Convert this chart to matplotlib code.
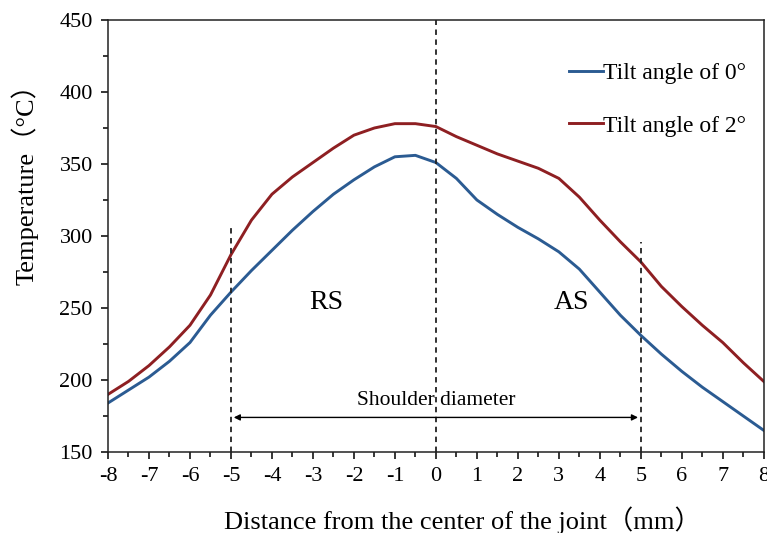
import matplotlib
matplotlib.use("Agg")
import matplotlib.pyplot as plt
from matplotlib.ticker import MultipleLocator

# distance from joint centre (mm) and temperature readings (°C)
distance = [-8, -7.5, -7, -6.5, -6, -5.5, -5, -4.5, -4, -3.5, -3, -2.5, -2, -1.5, -1, -0.5,
            0, 0.5, 1, 1.5, 2, 2.5, 3, 3.5, 4, 4.5, 5, 5.5, 6, 6.5, 7, 7.5, 8]
temp_tilt0 = [184, 193, 202, 213, 226, 245, 261, 276, 290, 304, 317, 329, 339, 348, 355, 356,
              351, 340, 325, 315, 306, 298, 289, 277, 261, 245, 231, 218, 206, 195, 185, 175, 165]
temp_tilt2 = [190, 199, 210, 223, 238, 259, 287, 311, 329, 341, 351, 361, 370, 375, 378, 378,
              376, 369, 363, 357, 352, 347, 340, 327, 311, 296, 282, 265, 251, 238, 226, 212, 199]
series_labels = ["Tilt angle of 0°", "Tilt angle of 2°"]

serif = ["Liberation Serif", "Noto Sans CJK SC"]
plt.rcParams["font.family"] = serif
plt.rcParams["axes.unicode_minus"] = False

fig = plt.figure(figsize=(7.67, 5.33), dpi=100)
ax = fig.add_axes([0.1408, 0.152, 0.855, 0.8105])

ax.plot(distance, temp_tilt0, color="#2b5b92", linewidth=2.1, label=series_labels[0])
ax.plot(distance, temp_tilt2, color="#8e1f22", linewidth=2.1, label=series_labels[1])

# reference lines: joint centre and shoulder edges
ax.axvline(0, color="#222222", linestyle="--", linewidth=1.3, dashes=(3, 2.5))
ax.plot([-5, -5], [150, 308], color="#222222", linestyle="--", linewidth=1.3, dashes=(3, 2.5))
ax.plot([5, 5], [150, 296], color="#222222", linestyle="--", linewidth=1.3, dashes=(3, 2.5))

ax.annotate("", xy=(-5, 174), xytext=(5, 174),
            arrowprops=dict(arrowstyle="<|-|>", color="black", lw=1, mutation_scale=9))
ax.text(0, 186, "Shoulder diameter", ha="center", va="center", fontsize=15.5)
ax.text(-2.67, 254, "RS", ha="center", va="center", fontsize=20)
ax.text(3.3, 254, "AS", ha="center", va="center", fontsize=20)

ax.set_xlim(-8, 8)
ax.set_ylim(150, 450)
ax.xaxis.set_major_locator(MultipleLocator(1))
ax.xaxis.set_minor_locator(MultipleLocator(0.5))
ax.yaxis.set_major_locator(MultipleLocator(50))
ax.yaxis.set_minor_locator(MultipleLocator(25))
ax.tick_params(which="both", direction="out", top=False, right=False, width=1.1)
ax.tick_params(which="major", length=5, labelsize=16, pad=6)
ax.tick_params(which="minor", length=3.5)
for s in ax.spines.values():
    s.set_linewidth(1.1)
    s.set_color("#222222")

ax.set_xlabel("Distance from the center of the joint（mm）", fontsize=19)
ax.set_ylabel("Temperature（°C）", fontsize=19)
ax.xaxis.set_label_coords(0.54, -0.125)
ax.yaxis.set_label_coords(-0.106, 0.635)

ax.legend(loc="upper right", frameon=False, fontsize=17, handlelength=1.45,
          handletextpad=0.0, labelspacing=1.3, bbox_to_anchor=(1.005, 0.95))

fig.savefig("out.png", dpi=100)
